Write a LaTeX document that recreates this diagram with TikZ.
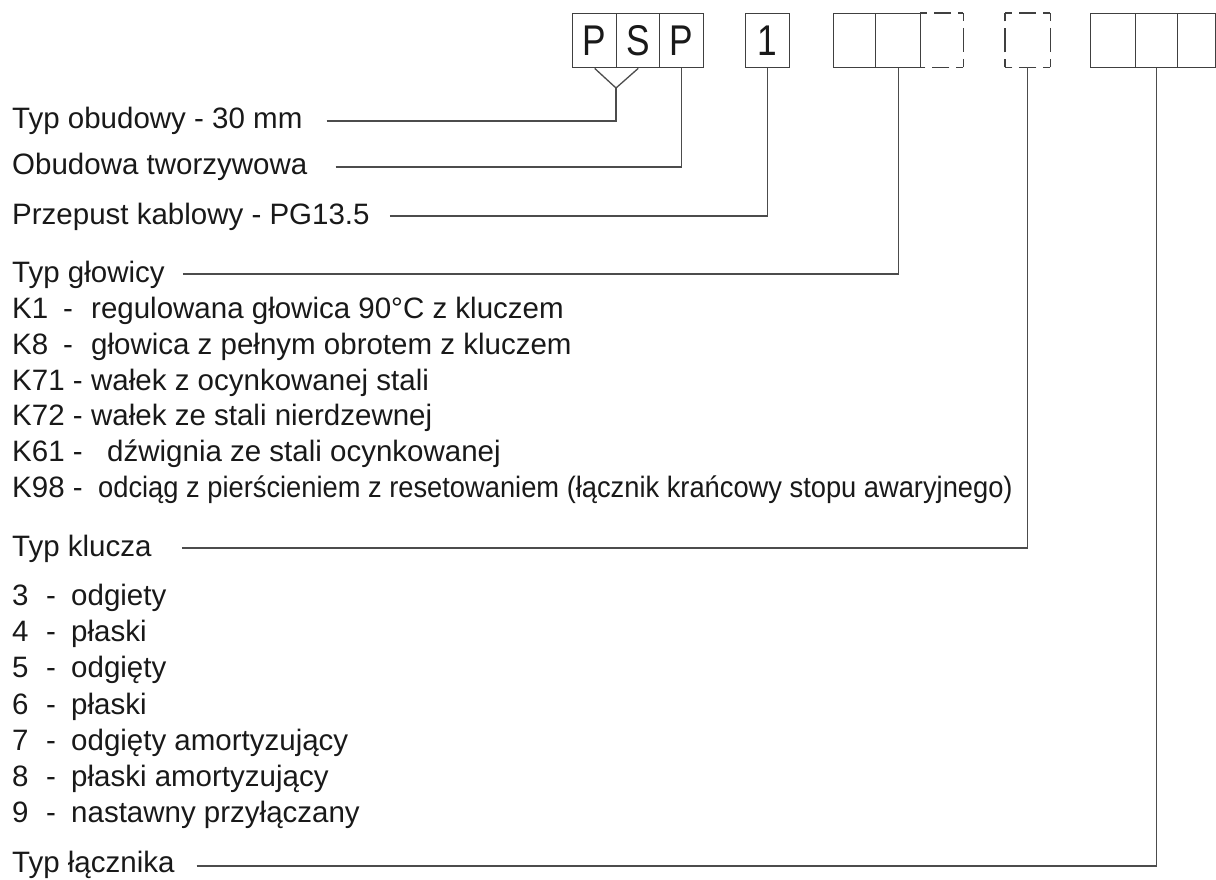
\documentclass[tikz,border=0pt]{standalone}
\usepackage{fontspec}
\setmainfont{Liberation Sans}
\usetikzlibrary{calc}
\begin{document}
\begin{tikzpicture}[x=1pt,y=-1pt,
  lbl/.style={anchor=base west,inner sep=0pt,font=\fontsize{29.5}{35}\selectfont,text=black!90},
  cell/.style={draw=black!75,line width=1.4pt,minimum height=54pt,minimum width=44pt,inner sep=0pt,anchor=north west,font=\fontsize{43}{43}\selectfont,text=black!90},
  ecell/.style={minimum height=54pt,minimum width=44pt,inner sep=0pt,anchor=north west},
  dh/.style={draw=black!75,line width=1.4pt,dash pattern=on 7pt off 7pt on 17pt off 7pt on 8pt off 100pt},
  dv/.style={draw=black!75,line width=1.4pt,dash pattern=on 8pt off 7pt on 24pt off 7pt on 9pt off 100pt},
  lead/.style={draw=black!70,line width=1.3pt}]
\useasboundingbox (0,0) rectangle (1216,880);

% code boxes
\node[cell] (c1) at (572,13) {\scalebox{0.82}[1]{P}};
\node[cell,minimum width=43pt] (c2) at (616,13) {\scalebox{0.82}[1]{S}};
\node[cell] (c3) at (659,13) {\scalebox{0.82}[1]{P}};
\node[cell] (c4) at (745,13) {\scalebox{0.82}[1]{1}};
\node[cell,minimum width=42pt] (g2a) at (833,13) {};
\node[cell,minimum width=45pt] (g2b) at (875,13) {};
\node[ecell,minimum width=43pt] (g2c) at (920,13) {};
\draw[dh] (g2c.north west) -- (g2c.north east);
\draw[dv] (g2c.north east) -- (g2c.south east);
\draw[dh] (g2c.south east) -- (g2c.south west);
\node[ecell,minimum width=45pt] (d1) at (1005,13) {};
\draw[dh] (d1.north west) -- (d1.north east);
\draw[dv] (d1.north east) -- (d1.south east);
\draw[dh] (d1.south east) -- (d1.south west);
\draw[dv] (d1.south west) -- (d1.north west);
\node[cell,minimum width=45pt] (g3a) at (1090,13) {};
\node[cell,minimum width=42pt] (g3b) at (1135,13) {};
\node[cell,minimum width=38pt] (g3c) at (1177,13) {};

% labels
\node[lbl] (t1) at (12,129) {Typ obudowy - 30 mm};
\node[lbl] (t2) at (12,175) {Obudowa tworzywowa};
\node[lbl] (t3) at (12,224) {Przepust kablowy - PG13.5};
\node[lbl] (t4) at (12,282) {Typ głowicy};

\node[lbl] (k1a) at (12,318.5) {K1};
\node[lbl] (k1b) at (63,318.5) {-};
\node[lbl] (k1c) at (91,318.5) {regulowana głowica 90°C z kluczem};
\node[lbl] (k2a) at (12,354.3) {K8};
\node[lbl] (k2b) at (63,354.3) {-};
\node[lbl] (k2c) at (91,354.3) {głowica z pełnym obrotem z kluczem};
\node[lbl] (k3a) at (12,390.1) {K71 -};
\node[lbl] (k3c) at (91,390.1) {wałek z ocynkowanej stali};
\node[lbl] (k4a) at (12,425.9) {K72 -};
\node[lbl] (k4c) at (91,425.9) {wałek ze stali nierdzewnej};
\node[lbl] (k5a) at (12,461.7) {K61 -};
\node[lbl] (k5c) at (107,461.7) {dźwignia ze stali ocynkowanej};
\node[lbl] (k6a) at (12,497.5) {K98 -};
\node[lbl] (k6c) at (98,497.5) {\scalebox{0.925}[1]{odciąg z pierścieniem z resetowaniem (łącznik krańcowy stopu awaryjnego)}};

\node[lbl] (t5) at (12,556) {Typ klucza};

\node[lbl] (n3a) at (12,605.5) {3}; \node[lbl] (n3b) at (46,605.5) {-}; \node[lbl] (n3c) at (71,605.5) {odgiety};
\node[lbl] (n4a) at (12,641.7) {4}; \node[lbl] (n4b) at (46,641.7) {-}; \node[lbl] (n4c) at (71,641.7) {płaski};
\node[lbl] (n5a) at (12,677.9) {5}; \node[lbl] (n5b) at (46,677.9) {-}; \node[lbl] (n5c) at (71,677.9) {odgięty};
\node[lbl] (n6a) at (12,714.1) {6}; \node[lbl] (n6b) at (46,714.1) {-}; \node[lbl] (n6c) at (71,714.1) {płaski};
\node[lbl] (n7a) at (12,750.3) {7}; \node[lbl] (n7b) at (46,750.3) {-}; \node[lbl] (n7c) at (71,750.3) {odgięty amortyzujący};
\node[lbl] (n8a) at (12,786.5) {8}; \node[lbl] (n8b) at (46,786.5) {-}; \node[lbl] (n8c) at (71,786.5) {płaski amortyzujący};
\node[lbl] (n9a) at (12,822.7) {9}; \node[lbl] (n9b) at (46,822.7) {-}; \node[lbl] (n9c) at (71,822.7) {nastawny przyłączany};

\node[lbl] (t6) at (12,872) {Typ łącznika};

% leader lines
\coordinate (yv) at (616,88);
\coordinate (e1) at ($(t1.base east)+(24,-8)$);
\coordinate (e2) at ($(t2.base east)+(28,-8)$);
\coordinate (e3) at ($(t3.base east)+(20,-8)$);
\coordinate (e4) at ($(t4.base east)+(18,-8)$);
\coordinate (e5) at ($(t5.base east)+(30,-8)$);
\coordinate (e6) at ($(t6.base east)+(22,-6)$);
\draw[lead] (c1.south) -- (yv) -- (c2.south);
\draw[lead] (e1) -| (yv);
\draw[lead] (e2) -| (c3.south);
\draw[lead] (e3) -| (c4.south);
\draw[lead] (e4) -| (g2b.south);
\draw[lead] (e5) -| (d1.south);
\draw[lead] (e6) -| (g3b.south);
\end{tikzpicture}
\end{document}
